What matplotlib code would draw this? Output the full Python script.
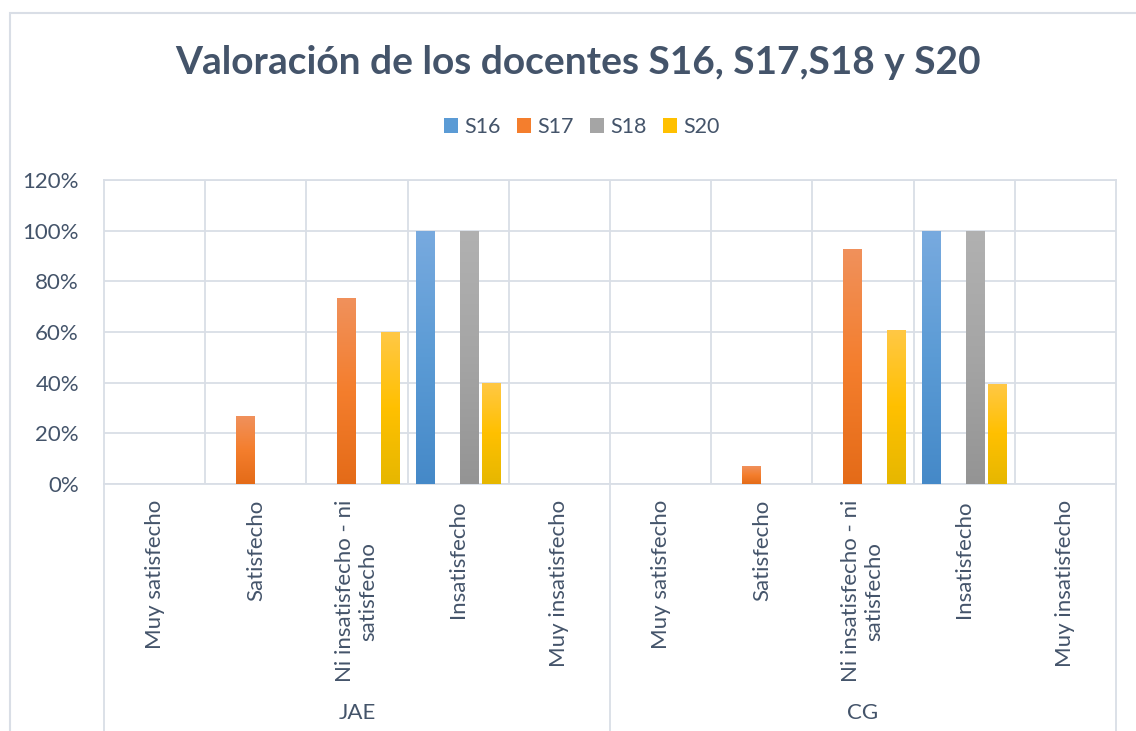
import numpy as np
import matplotlib
matplotlib.use("Agg")
import matplotlib.pyplot as plt
from matplotlib.colors import LinearSegmentedColormap
from matplotlib.patches import Rectangle, Patch
from matplotlib.ticker import PercentFormatter

# data
grupos = ["JAE", "CG"]
categorias = ["Muy satisfecho", "Satisfecho", "Ni insatisfecho - ni\nsatisfecho",
              "Insatisfecho", "Muy insatisfecho"]
series = ["S16", "S17", "S18", "S20"]
s16 = [0, 0, 0, 1.00, 0, 0, 0, 0, 1.00, 0]
s17 = [0, 0.267, 0.733, 0, 0, 0, 0.071, 0.929, 0, 0]
s18 = [0, 0, 0, 1.00, 0, 0, 0, 0, 1.00, 0]
s20 = [0, 0, 0.60, 0.40, 0, 0, 0, 0.608, 0.395, 0]
valores = [s16, s17, s18, s20]

# gradient colours (top, middle, bottom) in the Office style
degradados = [
    ["#78AADF", "#5B9BD5", "#4589C8"],
    ["#F0915C", "#F47E2D", "#E46B18"],
    ["#B1B1B1", "#A5A5A5", "#949494"],
    ["#FFC846", "#FFC000", "#E6B700"],
]
texto = "#44546A"
rejilla = "#D9DEE6"

plt.rcParams['font.family'] = ['Lato', 'DejaVu Sans']

fig = plt.figure(figsize=(11.36, 7.31), dpi=100)
ax = fig.add_axes([104/1136, 1-484/731, (1116-104)/1136, (484-180)/731])

n = len(categorias) * len(grupos)
x = np.arange(n)
paso = 0.217
ancho = 0.183

for i, (vals, cols) in enumerate(zip(valores, degradados)):
    barras = ax.bar(x + (i - 1.5) * paso, vals, width=ancho, color=cols[1],
                    linewidth=0, zorder=2)
    cmap = LinearSegmentedColormap.from_list("g%d" % i, cols[::-1])
    grad = np.linspace(0, 1, 256).reshape(-1, 1)
    for b, v in zip(barras, vals):
        if v <= 0:
            continue
        im = ax.imshow(grad, extent=[b.get_x(), b.get_x() + b.get_width(), 0, v],
                       aspect='auto', cmap=cmap, origin='lower', zorder=3)
        im.set_clip_path(b)

ax.set_xlim(-0.5, n - 0.5)
ax.set_ylim(0, 1.2)
ax.set_yticks(np.arange(0, 1.21, 0.2))
ax.yaxis.set_major_formatter(PercentFormatter(1.0, decimals=0))
ax.tick_params(axis='y', length=0, pad=18, labelsize=16, labelcolor=texto)
ax.set_xticks([])
ax.set_xticks(np.arange(0.5, n - 0.5, 1), minor=True)
ax.tick_params(axis='x', which='minor', length=0)
ax.grid(True, axis='y', color=rejilla, linewidth=1.3, zorder=0)
ax.grid(True, axis='x', which='minor', color=rejilla, linewidth=1.3, zorder=0)
ax.set_axisbelow(True)
for s in ax.spines.values():
    s.set_color(rejilla)
    s.set_linewidth(1.3)

# category labels
tr = ax.get_xaxis_transform()
for j in range(n):
    ax.text(x[j], -0.053, categorias[j % len(categorias)], rotation=90,
            ha='center', va='top', multialignment='center', fontsize=16,
            color=texto, transform=tr, linespacing=1.2)

# group separators and labels
for k in range(len(grupos) + 1):
    xs = k * len(categorias) - 0.5
    ax.plot([xs, xs], [0, -0.83], color=rejilla, linewidth=1.3,
            transform=tr, clip_on=False)
for k, g in enumerate(grupos):
    ax.text(k * len(categorias) + 2, -0.753, g, ha='center', va='center',
            fontsize=16, color=texto, transform=tr)

# chart border
fig.patches.append(Rectangle((10/1136, -0.1), 1.2, 1.1 - 13/731,
                             transform=fig.transFigure, fill=False,
                             edgecolor=rejilla, linewidth=1.5))

fig.text(578/1136, 1 - 62/731, "Valoración de los docentes S16, S17,S18 y S20",
         ha='center', va='center', fontsize=28, fontweight='bold', color=texto)

handles = [Patch(facecolor=c[1], edgecolor='none', label=s)
           for s, c in zip(series, degradados)]
fig.legend(handles=handles, loc='center', bbox_to_anchor=(582/1136, 1 - 127/731),
           ncol=4, frameon=False, fontsize=15.5, labelcolor=texto,
           handlelength=0.65, handleheight=0.7, handletextpad=0.3,
           columnspacing=0.75)

fig.savefig("out.png", dpi=100)
